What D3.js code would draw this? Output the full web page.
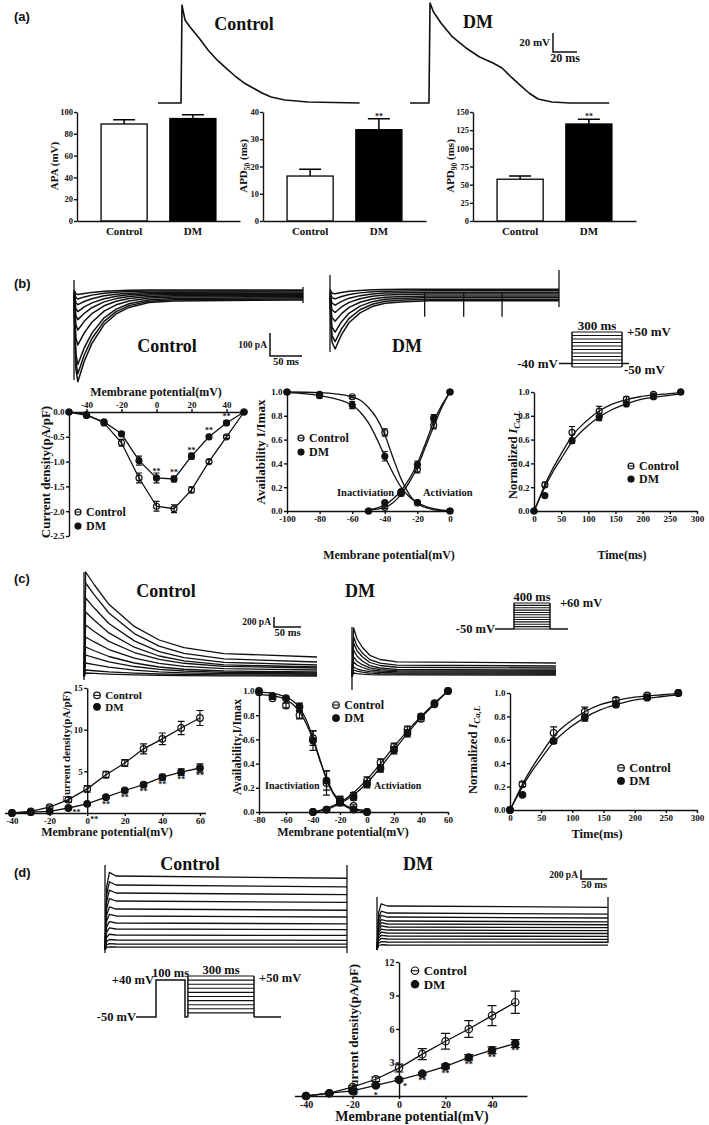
<!DOCTYPE html>
<html>
<head>
<meta charset="utf-8">
<script src="https://cdn.jsdelivr.net/npm/d3@7"></script>
<style>
  body { margin: 0; background: #fff; }
  text { font-family: "Liberation Serif", "Times New Roman", serif; font-weight: bold; fill: #111; }
  .letter { font-family: "Liberation Sans", Arial, sans-serif; }
  .axis path, .axis line { stroke: #111; stroke-width: 1.4; }
</style>
</head>
<body>
<svg id="fig" width="709" height="1125"></svg>
<script>
var svg = d3.select("#fig");
svg.append("rect").attr("width", 709).attr("height", 1125).attr("fill", "#fff");

var groups = ["Control", "DM"];

// ---------- (a) action potentials [ms, mV] and summary bars ----------
var apControl = [[0,-80],[19.2,-80],[20,23],[22.5,7.4],[26.7,0],[34.2,-11.6],[41.7,-24.2],[49.2,-34.7],[56.7,-43.2],[64.2,-51.6],[71.7,-58.9],[79.2,-64.2],[86.7,-69.5],[94.2,-73.7],[105.8,-76.8],[125,-78.9],[168,-80]];
var apDM = [[0,-80],[15.8,-80],[16.7,25.3],[19.6,15.8],[25.8,4.2],[35.4,-10.5],[46.7,-22.1],[58,-31.6],[69.2,-37.9],[76.7,-43.2],[84.2,-52.6],[91.7,-61.1],[99.2,-69.5],[106.7,-75.8],[118.3,-78.9],[133.3,-80],[166,-80]];
var apa = [89, 94], apaErr = [4, 3.5];
var apd50 = [16.5, 33.5], apd50Err = [2.5, 4];
var apd90 = [57.5, 133.5], apd90Err = [4.5, 6.5];

// ---------- (b) ICa,L ----------
var ibShapeCtrl = [[0,0],[3,0.85],[6,1],[16,0.75],[28,0.53],[47,0.3],[66,0.17],[86,0.09],[117,0.03],[156,0.01],[358,0]];
var ibShapeDM = [[0,0],[3,0.85],[8,1],[18,0.7],[30,0.45],[47,0.25],[66,0.12],[86,0.05],[117,0.02],[156,0],[358,0]];
var ibPeakCtrl = [-355,-325,-290,-210,-150,-110,-80,-55,-35,-20];
var ibLevelCtrl = [-22,-17,-12,-7,-2,3,8,13,18,22];
var ibPeakDM = [-210,-185,-150,-110,-80,-55,-35,-20];
var ibLevelDM = [-25,-18,-11,-4,4,11,18,25];
var ibSpikeDM = [148, 209, 269];
var protoBSteps = [-50,-40,-30,-20,-10,0,10,20,30,40,50];
var protoBTimes = [0, 78, 378, 420];

var ivVoltsB = [-50,-40,-30,-20,-10,0,10,20,30,40,50];
var ivCtrlB = [0,-0.05,-0.22,-0.62,-1.33,-1.9,-1.95,-1.57,-1.0,-0.5,0];
var ivCtrlErrB = [0,0.03,0.04,0.07,0.1,0.1,0.08,0.06,0.04,0.03,0];
var ivDMB = [0,-0.07,-0.2,-0.44,-0.98,-1.33,-1.35,-0.89,-0.5,-0.22,0];
var ivDMErrB = [0,0.03,0.04,0.04,0.09,0.1,0.06,0.06,0.04,0.04,0];
var ivStarsB = ["","","","","","**","**","**","**","**",""];

var inactVB = [-100,-80,-60,-40,-30,-20,0];
var inactCtrlB = [1.0,0.98,0.96,0.66,0.15,0.07,0.0];
var inactCtrlErrB = [0,0.01,0.01,0.03,0.02,0.01,0];
var inactDMB = [1.0,0.97,0.89,0.46,0.16,0.07,0.0];
var inactDMErrB = [0,0.02,0.03,0.04,0.02,0.01,0];
var actVB = [-50,-40,-30,-20,-10,0];
var actCtrlB = [0.0,0.03,0.15,0.35,0.72,1.0];
var actCtrlErrB = [0,0.01,0.02,0.03,0.03,0];
var actDMB = [0.0,0.07,0.16,0.39,0.78,1.0];
var actDMErrB = [0,0.01,0.02,0.03,0.03,0];
var inactFitVB = [-100,-80,-60,-55,-50,-45,-40,-35,-30,-25,-20,-15,-10,0];
var inactFitCtrlB = [1.0,0.995,0.96,0.93,0.87,0.78,0.64,0.45,0.27,0.14,0.06,0.03,0.01,0];
var inactFitDMB = [0.995,0.97,0.89,0.83,0.74,0.61,0.46,0.32,0.2,0.12,0.07,0.04,0.02,0];
var actFitVB = [-50,-45,-40,-35,-30,-25,-20,-15,-10,-5,0];
var actFitCtrlB = [0.005,0.015,0.03,0.07,0.14,0.24,0.37,0.54,0.71,0.87,1.0];
var actFitDMB = [0.01,0.025,0.05,0.1,0.17,0.27,0.4,0.57,0.75,0.89,1.0];

// recovery from inactivation (same in b and c)
var recT = [0,20,70,120,170,220,270];
var recCtrl = [0,0.22,0.66,0.84,0.94,0.98,1.0];
var recCtrlErr = [0,0.02,0.05,0.04,0.02,0.01,0];
var recDM = [0,0.13,0.59,0.79,0.9,0.96,1.0];
var recDMErr = [0,0.01,0.02,0.03,0.01,0.01,0];
var recFitT = [0,10,20,35,50,70,95,120,145,170,195,220,245,270];
var recFitCtrl = [0,0.11,0.22,0.36,0.48,0.63,0.75,0.84,0.9,0.935,0.96,0.975,0.985,0.995];
var recFitDM = [0,0.1,0.2,0.33,0.44,0.58,0.7,0.79,0.855,0.9,0.935,0.955,0.97,0.985];

// ---------- (c) Ito ----------
var icShapeCtrl = [[3,1],[19,0.85],[46,0.62],[93,0.36],[139,0.2],[185,0.11],[259,0.04],[431,0]];
var icPeakCtrl = [2100,1880,1580,1300,1040,800,600,440,280,140,80];
var icEndCtrl = [400,300,240,200,180,140,100,80,60,40,20];
var icShapeDM = [[3,1],[9,0.7],[19,0.45],[33,0.22],[52,0.1],[83,0.03],[378,0]];
var icPeakDM = [980,800,680,540,400,300,200,140,80];
var icEndDM = [280,220,180,140,120,100,80,60,40];
var protoCSteps = [-40,-30,-20,-10,0,10,20,30,40,50,60];
var protoCTimes = [0, 211, 611, 811];

var ivVoltsC = [-40,-30,-20,-10,0,10,20,30,40,50,60];
var ivCtrlC = [0,0.2,0.7,1.6,2.9,4.6,6.0,7.7,8.9,10.2,11.4];
var ivCtrlErrC = [0,0.05,0.15,0.3,0.4,0.4,0.4,0.6,0.7,0.8,0.9];
var ivDMC = [0,0.1,0.2,0.6,1.1,1.9,2.7,3.4,4.3,4.9,5.4];
var ivDMErrC = [0,0.05,0.05,0.1,0.15,0.2,0.2,0.25,0.35,0.4,0.5];
var ivStarsC = ["","","","**","**","**","**","**","**","**","**"];

var inactVC = [-80,-70,-60,-50,-40,-30,-20,-10,0];
var inactCtrlC = [0.99,0.94,0.88,0.80,0.61,0.24,0.10,0.05,0.0];
var inactCtrlErrC = [0,0.01,0.02,0.03,0.06,0.1,0.03,0.01,0];
var inactDMC = [1.0,0.96,0.94,0.87,0.59,0.26,0.08,0.02,0.0];
var inactDMErrC = [0,0.01,0.01,0.03,0.08,0.08,0.03,0.01,0];
var actVC = [-40,-30,-20,-10,0,10,20,30,40,50,60];
var actCtrlC = [0,0.02,0.10,0.14,0.26,0.41,0.54,0.68,0.77,0.89,1.0];
var actCtrlErrC = [0,0.01,0.03,0.02,0.03,0.03,0.03,0.03,0.02,0.01,0];
var actDMC = [0,0.02,0.08,0.12,0.23,0.36,0.51,0.65,0.79,0.9,1.0];
var actDMErrC = [0,0.01,0.02,0.02,0.03,0.03,0.03,0.03,0.02,0.01,0];
var inactFitVC = [-80,-70,-60,-55,-50,-45,-40,-35,-30,-25,-20,-15,-10,0];
var inactFitCtrlC = [0.97,0.96,0.93,0.89,0.83,0.73,0.6,0.43,0.28,0.16,0.09,0.05,0.03,0.01];
var inactFitDMC = [0.99,0.98,0.95,0.92,0.86,0.76,0.61,0.44,0.27,0.15,0.08,0.04,0.02,0.0];
var actFitVC = [-40,-30,-20,-10,0,10,20,30,40,50,60];
var actFitCtrlC = [0.0,0.03,0.08,0.16,0.27,0.4,0.54,0.67,0.79,0.9,1.0];
var actFitDMC = [0.0,0.02,0.07,0.14,0.24,0.37,0.51,0.65,0.78,0.89,1.0];

// ---------- (d) IK ----------
var idOnset = [[0,0],[3,0.85],[8,1.05],[20,1.0],[440,0.97]];
var idLevelCtrl = [1644,1444,1267,1089,911,756,600,467,333,222,133,67];
var idLevelDM = [978,822,733,644,578,511,444,378,311,244,178,111];
var protoDSteps = [-40,-30,-20,-10,0,10,20,30,40,50];
var protoDTimes = [0, 69, 169, 179, 407, 500];

var ivVoltsD = [-40,-30,-20,-10,0,10,20,30,40,50];
var ivCtrlD = [0,0.25,0.8,1.5,2.5,3.75,4.9,6.0,7.2,8.4];
var ivCtrlErrD = [0,0.05,0.1,0.2,0.35,0.5,0.7,0.75,0.9,1.0];
var ivDMD = [0,0.25,0.45,0.95,1.45,2.0,2.65,3.45,4.1,4.7];
var ivDMErrD = [0,0.05,0.08,0.1,0.12,0.12,0.2,0.25,0.3,0.35];
var ivStarsD = ["","","","*","*","**","**","**","**","**"];

// ---------- helpers ----------
function label(x, y, s, size, anchor, cls) {
  return svg.append("text")
    .attr("x", x).attr("y", y)
    .attr("font-size", size)
    .attr("text-anchor", anchor || "start")
    .attr("class", cls || null)
    .text(s);
}

function vlabel(cx, cy, size) {
  return svg.append("text")
    .attr("transform", "translate(" + (cx + size * 0.35) + "," + cy + ") rotate(-90)")
    .attr("font-size", size)
    .attr("text-anchor", "middle");
}

function traces(sweeps, x, y, width) {
  var ln = d3.line().x(d => x(d[0])).y(d => y(d[1]));
  svg.append("g").selectAll("path").data(sweeps).join("path")
    .attr("d", ln)
    .attr("fill", "none")
    .attr("stroke", "#111")
    .attr("stroke-width", width)
    .attr("stroke-linejoin", "round");
}

function artifact(x, y, t, lo, hi) {
  svg.append("line")
    .attr("x1", x(t)).attr("x2", x(t))
    .attr("y1", y(lo)).attr("y2", y(hi))
    .attr("stroke", "#111").attr("stroke-width", 1.3);
}

function scaleBar(x0, y0, lenV, lenH, vText, hText, fsV, fsH) {
  svg.append("path")
    .attr("d", "M" + x0 + "," + (y0 - lenV) + "V" + y0 + "H" + (x0 + lenH))
    .attr("fill", "none").attr("stroke", "#111").attr("stroke-width", 1.5);
  label(x0 - 3, y0 - lenV / 2 + 3, vText, fsV, "end");
  label(x0 + lenH / 2, y0 + fsH * 0.85, hText, fsH, "middle");
}

function protocol(x, y, outline, tA, tB, steps) {
  var ln = d3.line().x(d => x(d[0])).y(d => y(d[1]));
  outline.forEach(function(seg) {
    svg.append("path").attr("d", ln(seg))
      .attr("fill", "none").attr("stroke", "#111").attr("stroke-width", 1.5);
  });
  svg.append("g").selectAll("line").data(steps).join("line")
    .attr("x1", x(tA)).attr("x2", x(tB))
    .attr("y1", d => y(d)).attr("y2", d => y(d))
    .attr("stroke", "#111").attr("stroke-width", 1.1);
  var lo = d3.min(steps), hi = d3.max(steps);
  svg.append("path")
    .attr("d", "M" + x(tA) + "," + y(lo) + "V" + y(hi) + "M" + x(tB) + "," + y(lo) + "V" + y(hi))
    .attr("stroke", "#111").attr("stroke-width", 1.5);
}

function barChart(x0, vals, errs, max, ticks, title, sub, unit, tx) {
  var y = d3.scaleLinear().domain([0, max]).range([221, 112]);
  var x = d3.scaleBand().domain(groups).range([x0, x0 + 163]).paddingInner(0.33).paddingOuter(0.35);
  var g = svg.append("g");
  g.selectAll(".bar").data(groups).join("rect")
    .attr("x", d => x(d))
    .attr("y", (d, i) => y(vals[i]))
    .attr("width", x.bandwidth())
    .attr("height", (d, i) => y(0) - y(vals[i]))
    .attr("fill", (d, i) => i ? "#000" : "#fff")
    .attr("stroke", "#000").attr("stroke-width", 1.3);
  g.selectAll(".err").data(groups).join("path")
    .attr("d", function(d, i) {
      var cx = x(d) + x.bandwidth() / 2, top = y(vals[i] + errs[i]);
      return "M" + cx + "," + y(vals[i]) + "V" + top + "M" + (cx - 11) + "," + top + "H" + (cx + 11);
    })
    .attr("fill", "none").attr("stroke", "#000").attr("stroke-width", 1.5);
  g.append("g").attr("class", "axis")
    .attr("transform", "translate(" + x0 + ",0)")
    .call(d3.axisLeft(y).tickValues(ticks).tickSize(3).tickSizeOuter(0).tickPadding(1).tickFormat(String))
    .attr("font-size", 8.5);
  g.append("g").attr("class", "axis")
    .attr("transform", "translate(0," + y(0) + ")")
    .call(d3.axisBottom(x).tickSize(0).tickSizeOuter(0).tickPadding(6))
    .attr("font-size", 11);
  if (vals[1] > vals[0] * 1.5) {
    label(x("DM") + x.bandwidth() / 2, y(vals[1] + errs[1]), "**", 8, "middle");
  }
  var t = vlabel(tx, 166, 11);
  t.append("tspan").text(title);
  if (sub) {
    t.append("tspan").attr("font-size", 7.5).attr("dy", 3).text(sub);
    t.append("tspan").attr("dy", -3).text(" " + unit);
  } else {
    t.append("tspan").text(" " + unit);
  }
}

function xyPlot(c) {
  var x = d3.scaleLinear().domain(c.xd).range(c.xr);
  var y = d3.scaleLinear().domain(c.yd).range(c.yr);
  var g = svg.append("g");
  var straight = d3.line().x(d => x(d[0])).y(d => y(d[1]));
  var smooth = d3.line().x(d => x(d[0])).y(d => y(d[1])).curve(d3.curveMonotoneX);

  c.series.forEach(function(s) {
    var pe = s.x.map((v, i) => [v, s.v[i], s.e[i], s.stars ? s.stars[i] : ""]);
    g.append("path")
      .attr("d", s.fitX ? smooth(s.fitX.map((v, i) => [v, s.fitV[i]])) : straight(pe))
      .attr("fill", "none").attr("stroke", "#111").attr("stroke-width", 1.3);
    g.append("g").selectAll("path").data(pe.filter(d => d[2] > 0)).join("path")
      .attr("d", function(d) {
        var cx = x(d[0]), y1 = y(d[1] - d[2]), y2 = y(d[1] + d[2]), w = c.cap;
        return "M" + cx + "," + y1 + "V" + y2 + "M" + (cx - w) + "," + y1 + "H" + (cx + w) + "M" + (cx - w) + "," + y2 + "H" + (cx + w);
      })
      .attr("fill", "none").attr("stroke", "#111").attr("stroke-width", 1.2);
    g.append("g").selectAll("circle").data(pe).join("circle")
      .attr("cx", d => x(d[0])).attr("cy", d => y(d[1])).attr("r", c.r)
      .attr("fill", s.open ? "none" : "#111")
      .attr("stroke", "#111").attr("stroke-width", 1.2);
    g.append("g").selectAll("text").data(pe.filter(d => d[3])).join("text")
      .attr("x", d => x(d[0]) + (c.starAt[d[0]] ? c.starAt[d[0]][0] : 0))
      .attr("y", d => y(d[1]) + (c.starAt[d[0]] ? c.starAt[d[0]][1] : c.starDy))
      .attr("font-size", 8).attr("text-anchor", "middle")
      .text(d => d[3]);
  });

  var xAxis = (c.xTop ? d3.axisTop(x) : d3.axisBottom(x))
    .tickValues(c.xt).tickSize(3).tickSizeOuter(0).tickPadding(1.5).tickFormat(String);
  g.append("g").attr("class", "axis")
    .attr("transform", "translate(0," + y(0) + ")")
    .call(xAxis).attr("font-size", c.fs);
  var yAxis = d3.axisLeft(y)
    .tickValues(c.yt).tickSize(3).tickSizeOuter(0).tickPadding(1.5).tickFormat(c.yf || String);
  g.append("g").attr("class", "axis")
    .attr("transform", "translate(" + x(c.yAt) + ",0)")
    .call(yAxis).attr("font-size", c.fs);

  c.series.filter(s => s.name).forEach(function(s, i) {
    var ly = c.leg.y + i * c.leg.dy, cy = ly - c.leg.fs * 0.33;
    g.append("circle").attr("cx", c.leg.x).attr("cy", cy).attr("r", c.r)
      .attr("fill", s.open ? "none" : "#111").attr("stroke", "#111").attr("stroke-width", 1.2);
    if (s.open) {
      g.append("line").attr("x1", c.leg.x - c.r).attr("x2", c.leg.x + c.r)
        .attr("y1", cy).attr("y2", cy).attr("stroke", "#111").attr("stroke-width", 1.1);
    }
    label(c.leg.x + c.r + 5, ly, s.name, c.leg.fs, "start");
  });

  (c.notes || []).forEach(n => label(n[0], n[1], n[2], n[3], "start"));
  label(c.xTitle[0], c.xTitle[1], c.xTitle[2], c.xTitle[3], "middle");
  var yt = vlabel(c.yTitle[0], c.yTitle[1], c.yTitle[3]);
  if (c.yTitle[2] === "ICaL") {
    yt.append("tspan").text("Normalized ");
    yt.append("tspan").style("font-style", "italic").text("I");
    yt.append("tspan").style("font-style", "italic").attr("font-size", c.yTitle[3] * 0.7).attr("dy", 3).text("Ca,L");
  } else {
    yt.text(c.yTitle[2]);
  }
}

// ================= panel (a) =================
label(14, 21, "(a)", 13, "start", "letter");
var apY = d3.scaleLinear().domain([-80, 20]).range([103, 8]);
var apXc = d3.scaleLinear().domain([0, 20]).range([158, 182]);
var apXd = d3.scaleLinear().domain([0, 20]).range([410, 434]);
traces([apControl], apXc, apY, 1.6);
traces([apDM], apXd, apY, 1.6);
label(244, 30, "Control", 18, "middle");
label(478, 28, "DM", 18, "middle");
scaleBar(553, 52, apY(-80) - apY(-60), apXc(20) - apXc(0), "20 mV", "20 ms", 11, 12);

barChart(77, apa, apaErr, 100, [0,20,40,60,80,100], "APA", null, "(mV)", 54);
barChart(263, apd50, apd50Err, 40, [0,10,20,30,40], "APD", "50", "(ms)", 243);
barChart(473, apd90, apd90Err, 150, [0,25,50,75,100,125,150], "APD", "90", "(ms)", 450);

// ================= panel (b) =================
label(14, 288, "(b)", 13, "start", "letter");
var ibY = d3.scaleLinear().domain([0, -100]).range([295, 318]);
var ibXc = d3.scaleLinear().domain([0, 358]).range([74, 303]);
var ibXd = d3.scaleLinear().domain([0, 358]).range([330, 559]);
traces(ibPeakCtrl.map((pk, i) => ibShapeCtrl.map(s => [s[0], ibLevelCtrl[i] + pk * s[1]])), ibXc, ibY, 1.5);
traces(ibPeakDM.map((pk, i) => ibShapeDM.map(s => [s[0], ibLevelDM[i] + pk * s[1]])), ibXd, ibY, 1.5);
artifact(ibXc, ibY, 0, 65, -370);
artifact(ibXc, ibY, 358, 35, -35);
artifact(ibXd, ibY, 0, 87, -248);
artifact(ibXd, ibY, 358, 109, -52);
ibSpikeDM.forEach(t => artifact(ibXd, ibY, t, 10, -95));
label(167, 352, "Control", 18, "middle");
label(407, 352, "DM", 18, "middle");
scaleBar(270, 356, ibY(-100) - ibY(0), ibXc(50) - ibXc(0), "100 pA", "50 ms", 9.5, 10.5);

var pbX = d3.scaleLinear().domain([0, 420]).range([559, 629]);
var pbY = d3.scaleLinear().domain([-50, 50]).range([367, 332]);
protocol(pbX, pbY, [[[protoBTimes[0], -40], [protoBTimes[1], -40]], [[protoBTimes[2], -40], [protoBTimes[3], -40]]],
  protoBTimes[1], protoBTimes[2], protoBSteps);
label(pbX(228), pbY(50) - 2, "300 ms", 13, "middle");
label(pbX(378) + 5, pbY(50) + 4, "+50 mV", 13, "start");
label(pbX(0) - 1, pbY(-40) + 4, "-40 mV", 13, "end");
label(pbX(378) + 2, pbY(-50) + 7, "-50 mV", 13, "start");

xyPlot({
  xd: [-50, 50], xr: [69, 244], yd: [0, -2.5], yr: [412, 536],
  xt: [-40, -20, 0, 20, 40], yt: [0, -0.5, -1, -1.5, -2, -2.5], yf: d => d.toFixed(1),
  xTop: true, yAt: -50, fs: 9, r: 3, cap: 3, starDy: -3.5, starAt: {},
  series: [
    { name: "Control", open: true, x: ivVoltsB, v: ivCtrlB, e: ivCtrlErrB },
    { name: "DM", open: false, x: ivVoltsB, v: ivDMB, e: ivDMErrB, stars: ivStarsB }
  ],
  leg: { x: 78, y: 516, dy: 14, fs: 12 },
  xTitle: [156, 396, "Membrane potential(mV)", 12],
  yTitle: [45, 472, "Current density(pA/pF)", 13]
});

xyPlot({
  xd: [-100, 0], xr: [287, 450], yd: [0, 1], yr: [511, 392],
  xt: [-100, -80, -60, -40, -20, 0], yt: [0, 0.2, 0.4, 0.6, 0.8, 1], yf: d => d.toFixed(1),
  yAt: -100, fs: 9, r: 3, cap: 3, starDy: 0, starAt: {},
  series: [
    { name: "Control", open: true, x: inactVB, v: inactCtrlB, e: inactCtrlErrB, fitX: inactFitVB, fitV: inactFitCtrlB },
    { name: "DM", open: false, x: inactVB, v: inactDMB, e: inactDMErrB, fitX: inactFitVB, fitV: inactFitDMB },
    { open: true, x: actVB, v: actCtrlB, e: actCtrlErrB, fitX: actFitVB, fitV: actFitCtrlB },
    { open: false, x: actVB, v: actDMB, e: actDMErrB, fitX: actFitVB, fitV: actFitDMB }
  ],
  leg: { x: 301, y: 442, dy: 14, fs: 12 },
  notes: [[337, 496, "Inactiviation", 10.5], [423, 496, "Activiation", 10.5]],
  xTitle: [389, 559, "Membrane potential(mV)", 12],
  yTitle: [260, 452, "Availability I/Imax", 13]
});

xyPlot({
  xd: [0, 300], xr: [534, 697], yd: [0, 1], yr: [511, 392],
  xt: [0, 50, 100, 150, 200, 250, 300], yt: [0, 0.2, 0.4, 0.6, 0.8, 1], yf: d => d.toFixed(1),
  yAt: 0, fs: 9, r: 3, cap: 3, starDy: 0, starAt: {},
  series: [
    { name: "Control", open: true, x: recT, v: recCtrl, e: recCtrlErr, fitX: recFitT, fitV: recFitCtrl },
    { name: "DM", open: false, x: recT, v: recDM, e: recDMErr, fitX: recFitT, fitV: recFitDM }
  ],
  leg: { x: 631, y: 470, dy: 13, fs: 12 },
  xTitle: [622, 559, "Time(ms)", 12],
  yTitle: [513, 455, "ICaL", 12.5]
});

// ================= panel (c) =================
label(14, 583, "(c)", 13, "start", "letter");
var icY = d3.scaleLinear().domain([0, 2000]).range([677, 577]);
var icXc = d3.scaleLinear().domain([0, 431]).range([84, 317]);
var icXd = d3.scaleLinear().domain([0, 378]).range([352, 556]);
traces(icPeakCtrl.map((pk, i) => [[0, 0]].concat(icShapeCtrl.map(s => [s[0], icEndCtrl[i] + (pk - icEndCtrl[i]) * s[1]]))), icXc, icY, 1.3);
traces(icPeakDM.map((pk, i) => [[0, 0]].concat(icShapeDM.map(s => [s[0], icEndDM[i] + (pk - icEndDM[i]) * s[1]]))), icXd, icY, 1.3);
artifact(icXc, icY, 0, -60, 2100);
artifact(icXd, icY, 0, -260, 1000);
label(166, 597, "Control", 18, "middle");
label(360, 597, "DM", 18, "middle");
scaleBar(274, 627, icY(0) - icY(200), icXc(50) - icXc(0), "200 pA", "50 ms", 9.5, 10.5);

var pcX = d3.scaleLinear().domain([0, 811]).range([495, 568]);
var pcY = d3.scaleLinear().domain([-50, 60]).range([629, 603]);
protocol(pcX, pcY, [[[protoCTimes[0], -50], [protoCTimes[1], -50]], [[protoCTimes[2], -50], [protoCTimes[3], -50]]],
  protoCTimes[1], protoCTimes[2], [-50].concat(protoCSteps));
label(pcX(411), pcY(60) - 2, "400 ms", 12.5, "middle");
label(pcX(611) + 10, pcY(60) + 4, "+60 mV", 12.5, "start");
label(pcX(0), pcY(-50) + 4, "-50 mV", 12.5, "end");

xyPlot({
  xd: [-44, 63], xr: [4.5, 205.6], yd: [0, 15], yr: [813, 688],
  xt: [-40, -20, 0, 20, 40, 60], yt: [5, 10, 15],
  yAt: 0, fs: 9, r: 3.3, cap: 3.5, starDy: 9.5, starAt: { "-10": [8, 6.5], "0": [7, 18.5] },
  series: [
    { name: "Control", open: true, x: ivVoltsC, v: ivCtrlC, e: ivCtrlErrC },
    { name: "DM", open: false, x: ivVoltsC, v: ivDMC, e: ivDMErrC, stars: ivStarsC }
  ],
  leg: { x: 97, y: 699, dy: 11.5, fs: 11 },
  xTitle: [107, 836, "Membrane potential(mV)", 12],
  yTitle: [66, 747, "Current density(pA/pF)", 11]
});

xyPlot({
  xd: [-80, 60], xr: [259, 448], yd: [0, 1], yr: [812, 691],
  xt: [-80, -60, -40, -20, 0, 20, 40, 60], yt: [0, 0.2, 0.4, 0.6, 0.8, 1], yf: d => d.toFixed(1),
  yAt: -80, fs: 9, r: 3.3, cap: 3.5, starDy: 0, starAt: {},
  series: [
    { name: "Control", open: true, x: inactVC, v: inactCtrlC, e: inactCtrlErrC, fitX: inactFitVC, fitV: inactFitCtrlC },
    { name: "DM", open: false, x: inactVC, v: inactDMC, e: inactDMErrC, fitX: inactFitVC, fitV: inactFitDMC },
    { open: true, x: actVC, v: actCtrlC, e: actCtrlErrC, fitX: actFitVC, fitV: actFitCtrlC },
    { open: false, x: actVC, v: actDMC, e: actDMErrC, fitX: actFitVC, fitV: actFitDMC }
  ],
  leg: { x: 336, y: 709, dy: 13, fs: 12 },
  notes: [[265, 789, "Inactiviation", 10], [374, 789, "Activiation", 10]],
  xTitle: [343, 836, "Membrane potential(mV)", 12],
  yTitle: [237, 747, "Availability,I/Imax", 12]
});

xyPlot({
  xd: [0, 300], xr: [510, 697], yd: [0, 1], yr: [810, 693],
  xt: [0, 50, 100, 150, 200, 250, 300], yt: [0, 0.2, 0.4, 0.6, 0.8, 1], yf: d => d.toFixed(1),
  yAt: 0, fs: 9, r: 3.3, cap: 3.5, starDy: 0, starAt: {},
  series: [
    { name: "Control", open: true, x: recT, v: recCtrl, e: recCtrlErr, fitX: recFitT, fitV: recFitCtrl },
    { name: "DM", open: false, x: recT, v: recDM, e: recDMErr, fitX: recFitT, fitV: recFitDM }
  ],
  leg: { x: 621, y: 772, dy: 13, fs: 12.5 },
  xTitle: [597, 838, "Time(ms)", 12.5],
  yTitle: [473, 750, "ICaL", 12.5]
});

// ================= panel (d) =================
label(14, 877, "(d)", 13, "start", "letter");
var idY = d3.scaleLinear().domain([0, 200]).range([950, 941]);
var idXc = d3.scaleLinear().domain([0, 440]).range([105, 347]);
var idXd = d3.scaleLinear().domain([0, 440]).range([377, 608]);
traces(idLevelCtrl.map(l => idOnset.map(s => [s[0], l * s[1]])), idXc, idY, 1.3);
traces(idLevelDM.map(l => idOnset.map(s => [s[0], l * s[1]])), idXd, idY, 1.3);
artifact(idXc, idY, 0, -67, 1889);
artifact(idXc, idY, 440, -67, 1889);
artifact(idXd, idY, 0, 0, 1178);
artifact(idXd, idY, 440, 156, 1178);
label(190, 870, "Control", 18, "middle");
label(418, 870, "DM", 18, "middle");
scaleBar(581, 879, idY(0) - idY(200), idXd(50) - idXd(0), "200 pA", "50 ms", 9.5, 10.5);

var pdX = d3.scaleLinear().domain([0, 500]).range([136, 281]);
var pdY = d3.scaleLinear().domain([-50, 50]).range([1017, 976]);
protocol(pdX, pdY,
  [[[protoDTimes[0], -50], [protoDTimes[1], -50], [protoDTimes[1], 40], [protoDTimes[2], 40], [protoDTimes[2], -50], [protoDTimes[3], -50]],
   [[protoDTimes[4], -50], [protoDTimes[5], -50]],
   [[protoDTimes[3], -50], [protoDTimes[3], -40]], [[protoDTimes[4], -50], [protoDTimes[4], -40]]],
  protoDTimes[3], protoDTimes[4], protoDSteps);
label(pdX(69) - 2, pdY(40) + 4, "+40 mV", 12.5, "end");
label(pdX(119), pdY(40) - 3, "100 ms", 12.5, "middle");
label(pdX(293), pdY(50) - 2, "300 ms", 12.5, "middle");
label(pdX(407) + 5, pdY(50) + 6, "+50 mV", 12.5, "start");
label(pdX(0), pdY(-50) + 4, "-50 mV", 12.5, "end");

xyPlot({
  xd: [-45, 55], xr: [294.4, 526.9], yd: [0, 12], yr: [1096, 962],
  xt: [-40, -20, 0, 20, 40], yt: [3, 6, 9, 12],
  yAt: 0, fs: 10, r: 3.7, cap: 4.5, starDy: 9.5, starAt: { "-10": [0, 12.5], "0": [6, 9.5] },
  series: [
    { name: "Control", open: true, x: ivVoltsD, v: ivCtrlD, e: ivCtrlErrD },
    { name: "DM", open: false, x: ivVoltsD, v: ivDMD, e: ivDMErrD, stars: ivStarsD }
  ],
  leg: { x: 415, y: 975, dy: 13.5, fs: 13 },
  xTitle: [412, 1121, "Membrane potential(mV)", 14],
  yTitle: [353, 1030, "Current density(pA/pF)", 13]
});
</script>
</body>
</html>
